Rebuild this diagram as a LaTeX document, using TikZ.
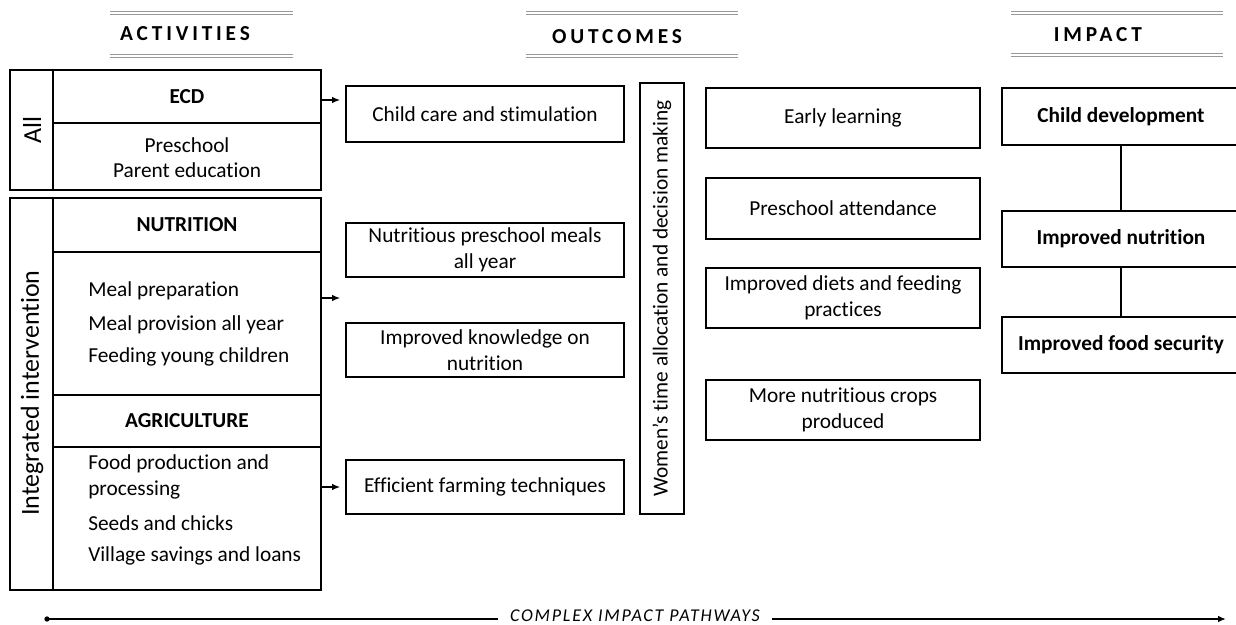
\documentclass[tikz,border=0pt]{standalone}
\usepackage{fontspec}
\defaultfontfeatures{Ligatures=NoCommon}
\setmainfont{Carlito}
\usetikzlibrary{arrows.meta}

\begin{document}
\begin{tikzpicture}[x=0.75pt,y=-0.75pt,
  frame/.style={line width=0.9pt},
  box/.style={draw, line width=0.9pt, align=center, inner sep=0pt,
    font=\fontsize{16}{19.5}\selectfont},
  boxsize/.style 2 args={minimum width=#1*0.75pt, minimum height=#2*0.75pt},
  btext/.style={font=\fontsize{16}{19.5}\selectfont\bfseries, align=center},
  ltext/.style={font=\fontsize{16}{19.5}\selectfont, anchor=west, inner sep=0pt},
  rot/.style={rotate=90, font=\fontsize{19.5}{23}\selectfont},
  head/.style={font=\fontsize{16}{19}\selectfont\bfseries\addfontfeature{LetterSpace=18}},
  hline/.style={gray!80, double, line width=0.7pt, double distance=0.9pt},
  link/.style={line width=0.9pt, -{Latex[length=6pt,width=5pt]}},
  pathline/.style={line width=1.2pt}]

\clip (0,0) rectangle (1236,625);

%\draw [help lines] (0,0) grid (1236,625);

% headings
\draw [hline] (110,13)--(293,13);
\draw [hline] (110,56)--(293,56);
\node [head] (acthead) at (185,34) {ACTIVITIES};

\draw [hline] (526,13)--(738,13);
\draw [hline] (526,56)--(738,56);
\node [head] (outhead) at (617,37) {OUTCOMES};

\draw [hline] (1011,13)--(1223,13);
\draw [hline] (1011,55)--(1223,55);
\node [head] (imphead) at (1098,35) {IMPACT};

% All: ECD
\draw [frame] (10,70) rectangle (321,190);
\draw [frame] (53,70)--(53,190);
\draw [frame] (53,123)--(321,123);
\node [rot] (alllab) at (32,130) {All};
\node [btext] (ecd) at (187,97) {ECD};
\node [align=center, font=\fontsize{16}{19}\selectfont] (ecdlist) at (187,158) {Preschool\\Parent education};

% Integrated intervention
\draw [frame] (10,198) rectangle (321,590);
\draw [frame] (53,198)--(53,590);
\draw [frame] (53,252)--(321,252);
\draw [frame] (53,395)--(321,395);
\draw [frame] (53,447)--(321,447);
\node [rot] (intlab) at (32,393) {Integrated intervention};

% nutrition
\node [btext] (nutr) at (187,225) {NUTRITION};
\node [ltext] (meal1) at (88,291) {Meal preparation};
\node [ltext] (meal2) at (88,325) {Meal provision all year};
\node [ltext] (meal3) at (88,357) {Feeding young children};

% agriculture
\node [btext] (agri) at (187,421) {AGRICULTURE};
\node [ltext] (agr1) at (88,464) {Food production and};
\node [ltext] (agr2) at (88,490) {processing};
\node [ltext] (agr3) at (88,523) {Seeds and chicks};
\node [ltext] (agr4) at (88,556) {Village savings and loans};

% arrows
\coordinate (ecdout) at (321,100);
\coordinate (ecdin) at (340,100);
\draw [link] (ecdout)--(ecdin);
\coordinate (nutout) at (321,298);
\coordinate (nutin) at (340,298);
\draw [link] (nutout)--(nutin);
\coordinate (agrout) at (321,487);
\coordinate (agrin) at (340,487);
\draw [link] (agrout)--(agrin);

% outcomes, first column
\node [box, boxsize={278}{56}] (care) at (485,114) {Child care and stimulation};
\node [box, boxsize={278}{54}] (meals) at (485,250) {Nutritious preschool meals\\all year};
\node [box, boxsize={278}{54}] (know) at (485,350) {Improved knowledge on\\nutrition};
\node [box, boxsize={278}{54}] (farm) at (485,487) {Efficient farming techniques};

% women
\node [box, rotate=90, boxsize={431}{44}] (women) at (662,298.5) {Women's time allocation and decision making};

% outcomes, second column
\node [box, boxsize={274}{60}] (early) at (843,118) {Early learning};
\node [box, boxsize={274}{61}] (attend) at (843,208.5) {Preschool attendance};
\node [box, boxsize={274}{60}] (diets) at (843,298) {Improved diets and feeding\\practices};
\node [box, boxsize={274}{60}] (crops) at (843,410) {More nutritious crops\\produced};

% impact
\node [box, boxsize={238}{57}, font=\fontsize{16}{19.5}\selectfont\bfseries] (cdev) at (1121,116.5) {Child development};
\node [box, boxsize={238}{56}, font=\fontsize{16}{19.5}\selectfont\bfseries] (inut) at (1121,239) {Improved nutrition};
\node [box, boxsize={238}{56}, font=\fontsize{16}{19.5}\selectfont\bfseries] (ifood) at (1121,345) {Improved food security};
\draw [frame] (cdev)--(inut);
\draw [frame] (inut)--(ifood);

% complex impact pathways
\node [font=\fontsize{13.5}{15}\selectfont\itshape\addfontfeature{LetterSpace=10}, inner xsep=9pt, inner ysep=1pt] (cip) at (635,616) {COMPLEX IMPACT PATHWAYS};
\coordinate (pstart) at (47,619);
\coordinate (pend) at (1226,619);
\fill (pstart) circle (2pt);
\draw [pathline] (pstart)--(cip.west |- pstart);
\draw [pathline, -{Latex[length=6pt,width=5pt]}] (cip.east |- pend)--(pend);

\end{tikzpicture}
\end{document}
